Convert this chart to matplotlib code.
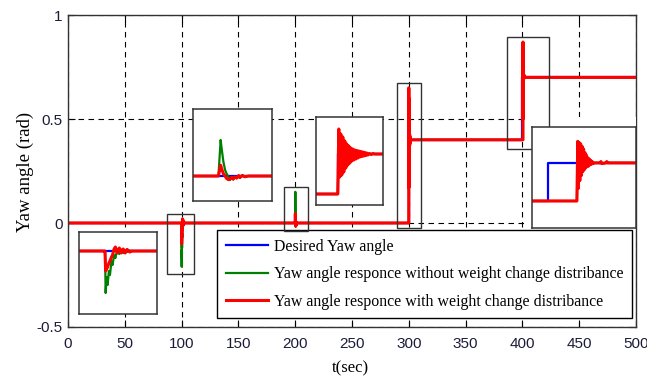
import matplotlib
matplotlib.use('Agg')
import matplotlib.pyplot as plt
from matplotlib.patches import Rectangle

plt.rcParams['axes.unicode_minus'] = False

# ─── Data ────────────────────────────────────────────────────────────────────

# desired yaw angle (step commands)
t_desired = [0, 300, 300, 399.5, 399.5, 500]
y_desired = [0, 0, 0.4, 0.4, 0.7, 0.7]

# disturbance at t=100 (weight change, negative kick)
t_ev100 = [99.9, 100.0, 100.05, 100.12, 100.2, 100.3, 100.38, 100.5, 100.58,
           100.7, 100.8, 100.95, 101.1, 101.25, 101.4, 101.55, 101.7, 101.9, 102.1]
green_ev100 = [0, 0, -0.21, -0.13, -0.17, -0.10, -0.12, -0.05, -0.07,
               -0.02, -0.035, 0.01, -0.015, 0.008, -0.01, 0.005, -0.005, 0.003, 0]
red_ev100 = [0, 0, -0.10, -0.09, -0.08, -0.06, -0.05, -0.03, -0.02,
             0.01, 0.02, -0.01, 0.015, -0.01, 0.01, -0.01, 0.008, -0.005, 0]

# disturbance at t=200 (positive kick)
t_ev200 = [199.9, 200.03, 200.12, 200.16, 200.23, 200.3, 200.36, 200.43, 200.5,
           200.57, 200.63, 200.7, 200.77, 200.85, 200.9, 201.0, 201.1, 201.24]
green_ev200 = [0, 0, 0.15, 0.115, 0.06, 0.025, 0.01, -0.002, -0.017,
               -0.005, -0.015, -0.003, -0.01, 0.0, -0.008, 0.004, -0.004, 0]
red_ev200 = [0, 0, 0.045, 0.03, 0.01, 0.0, -0.01, -0.015, -0.012,
             -0.005, -0.012, -0.004, -0.008, 0.002, -0.006, 0.002, -0.003, 0]

# step 0 -> 0.4 at t=300
t_ev300 = [299.9, 300.0,
           300.03, 300.06, 300.09, 300.12, 300.15, 300.18, 300.21, 300.24, 300.27, 300.3,
           300.33, 300.36, 300.39, 300.42, 300.45, 300.48, 300.51, 300.54, 300.57, 300.6,
           300.63, 300.66, 300.69, 300.72, 300.75, 300.78, 300.81, 300.84, 300.87, 300.9,
           300.95, 301.0, 301.05, 301.1]
green_ev300 = [0, 0,
               0.5, 0.3, 0.49, 0.31, 0.48, 0.32, 0.46, 0.34, 0.45, 0.35,
               0.44, 0.36, 0.43, 0.37, 0.425, 0.375, 0.42, 0.38, 0.415, 0.385,
               0.41, 0.39, 0.405, 0.395, 0.405, 0.395, 0.4, 0.4, 0.4, 0.4,
               0.4, 0.4, 0.4, 0.4]
red_ev300 = [0, 0,
             0.65, 0.17, 0.6, 0.19, 0.57, 0.22, 0.53, 0.26, 0.5, 0.29,
             0.48, 0.31, 0.46, 0.33, 0.45, 0.34, 0.44, 0.35, 0.435, 0.36,
             0.43, 0.37, 0.425, 0.375, 0.42, 0.38, 0.415, 0.385, 0.41, 0.39,
             0.405, 0.395, 0.405, 0.4]

# step 0.4 -> 0.7 at t=400 (both responses overlap here)
t_ev400 = [400.0, 400.5, 400.53, 400.55, 400.58, 400.6, 400.63, 400.65, 400.68,
           400.7, 400.73, 400.75, 400.78, 400.8, 400.83, 400.85, 400.88, 400.9,
           400.93, 400.95, 400.98, 401.0, 401.03, 401.06, 401.1, 401.3, 401.33,
           401.36, 401.5, 401.53, 401.56]
red_ev400 = [0.4, 0.4, 0.87, 0.5, 0.86, 0.56, 0.85, 0.6, 0.83, 0.63, 0.81, 0.645,
             0.78, 0.66, 0.76, 0.67, 0.74, 0.675, 0.73, 0.685, 0.72, 0.69, 0.71,
             0.695, 0.7, 0.7, 0.71, 0.695, 0.7, 0.71, 0.7]
green_ev400 = red_ev400

t_resp = [0] + t_ev100 + t_ev200 + t_ev300 + t_ev400 + [500]
y_green = [0] + green_ev100 + green_ev200 + green_ev300 + green_ev400 + [0.7]
y_red = [0] + red_ev100 + red_ev200 + red_ev300 + red_ev400 + [0.7]

labels = ['Desired Yaw angle',
          'Yaw angle responce without weight change distribance',
          'Yaw angle responce with weight change distribance']

x_ticks = list(range(0, 501, 50))
y_ticks = [-0.5, 0, 0.5, 1]
y_ticklabels = ['-0.5', '0', '0.5', '1']

# ─── Layout helpers (pixel boxes of the 647x378 image) ───────────────────────

W, H = 647, 378


def box(x0, y0, x1, y1):
    return [x0 / W, 1 - y1 / H, (x1 - x0) / W, (y1 - y0) / H]


BLUE, GREEN, RED = '#0000ff', '#008000', '#ff0000'
FRAME = '#333333'
SERIF = 'Liberation Serif'


def draw_lines(ax):
    ax.plot(t_desired, y_desired, color=BLUE, lw=1.6, label=labels[0])
    ax.plot(t_resp, y_green, color=GREEN, lw=1.6, label=labels[1])
    ax.plot(t_resp, y_red, color=RED, lw=2.2, label=labels[2])


fig = plt.figure(figsize=(6.47, 3.78), dpi=100)

# main axes
ax = fig.add_axes(box(68, 15, 636, 327))
draw_lines(ax)
ax.set_xlim(0, 500)
ax.set_ylim(-0.5, 1)
ax.set_xticks(x_ticks)
ax.set_xticklabels([str(v) for v in x_ticks])
ax.set_yticks(y_ticks)
ax.set_yticklabels(y_ticklabels)
ax.grid(True, color='black', ls=(0, (5, 4)), lw=0.8)
ax.tick_params(direction='in', top=True, right=True, length=5, width=0.8,
               labelsize=11, labelcolor='#1c1c3a')
ax.tick_params(axis='x', pad=7)
ax.tick_params(axis='y', pad=4)
for lab in ax.get_xticklabels() + ax.get_yticklabels():
    lab.set_family('Liberation Sans')
for s in ax.spines.values():
    s.set_color(FRAME)
    s.set_linewidth(1.0)

leg = ax.legend(loc='upper left', bbox_to_anchor=(217 / W, 1 - 230 / H),
                bbox_transform=fig.transFigure, prop={'family': SERIF, 'size': 11.4},
                fancybox=False, framealpha=1, edgecolor='black',
                handlelength=2.7, handletextpad=0.35, labelspacing=0.72,
                borderpad=0.55, borderaxespad=0)
leg.get_frame().set_linewidth(1.0)

fig.text(25 / W, 1 - 172 / H, 'Yaw angle (rad)', rotation=90, ha='center',
         va='center', family=SERIF, size=13.5)
fig.text(350 / W, 1 - 368 / H, 't(sec)', ha='center', va='center',
         family=SERIF, size=12)

# white area behind the last inset
cover = fig.add_axes(box(527, 117, 636, 228))
cover.set_xticks([])
cover.set_yticks([])
for s in cover.spines.values():
    s.set_visible(False)

# zoom boxes on the main curves
over = fig.add_axes(box(68, 15, 636, 327))
over.set_xlim(0, 500)
over.set_ylim(-0.5, 1)
over.axis('off')
for (x0, x1, y0, y1) in [(87, 111, -0.245, 0.043), (190, 211, -0.038, 0.173),
                         (289.6, 310.7, -0.024, 0.673), (386.4, 423.4, 0.356, 0.894)]:
    over.add_patch(Rectangle((x0, y0), x1 - x0, y1 - y0, fill=False,
                             edgecolor=FRAME, lw=1.0))

# insets
insets = [
    (box(79, 232, 157, 314), (98, 104), (-0.315, 0.095)),
    (box(193, 109, 272, 201), (199, 202.2), (-0.104, 0.279)),
    (box(316, 117, 383, 205), (299.35, 301.35), (-0.11, 0.77)),
    (box(532, 127, 636, 228), (398.95, 402.54), (0.187, 0.983)),
]
for rect, xl, yl in insets:
    ia = fig.add_axes(rect)
    draw_lines(ia)
    ia.set_xlim(*xl)
    ia.set_ylim(*yl)
    ia.set_xticks([])
    ia.set_yticks([])
    for s in ia.spines.values():
        s.set_color(FRAME)
        s.set_linewidth(1.1)

fig.savefig('out.png', dpi=100)
